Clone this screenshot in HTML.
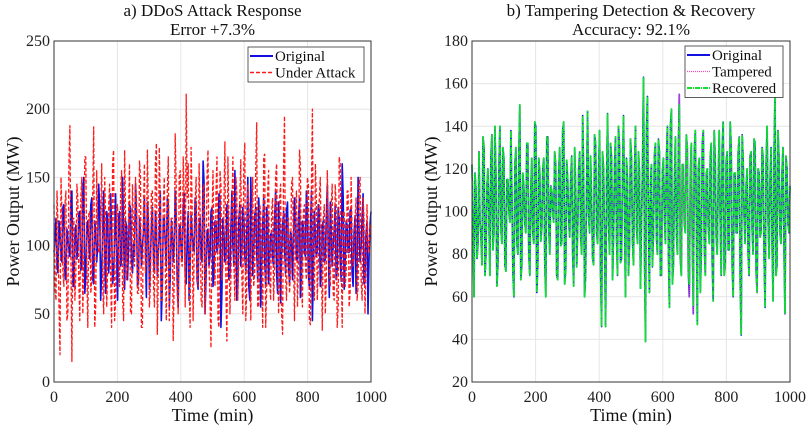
<!DOCTYPE html>
<html><head><meta charset="utf-8"><style>
body{margin:0;background:#fff;}
svg{display:block;font-family:"Liberation Serif",serif;}
</style></head><body>
<svg id="chart" width="809" height="427" viewBox="0 0 809 427" xmlns="http://www.w3.org/2000/svg"></svg>
<script>
const xTicks=[0,200,400,600,800,1000];
const yTicksA=[0,50,100,150,200,250];
const yTicksB=[20,40,60,80,100,120,140,160,180];
const origA=[95,120,80,110,88,130,75,105,92,140,70,115,98,125,85,150,78,118,90,135,72,110,100,128,82,140,65,120,95,112,80,138,60,125,90,105,118,75,130,88,
102,145,70,120,85,110,96,132,68,115,92,125,78,108,45,120,100,135,55,118,88,140,72,112,95,128,80,105,60,122,98,135,75,115,90,162,50,110,85,125,
70,118,95,138,40,120,88,130,75,112,100,155,60,118,85,128,92,110,70,150,78,122,95,135,55,115,88,128,72,108,90,120,80,132,58,115,100,125,85,110,
75,135,90,120,62,118,95,140,80,110,45,125,92,130,70,115,88,120,100,132,85,110,75,128,90,160,68,118,95,125,80,110,65,150,88,120,72,108,50,115];
const origA2=[105,85,118,92,128,78,112,96,135,70,108,90,122,82,140,65,115,100,130,75,118,88,145,60,110,95,125,80,138,72,105,92,120,85,150,68,115,98,128,80,
92,125,75,110,100,135,62,118,88,128,80,112,95,140,70,120,85,130,78,108,100,122,55,115,90,138,72,125,85,110,96,130,68,120,88,145,75,112,92,128,
80,118,100,135,65,110,90,125,78,140,85,115,70,130,95,120,82,150,60,112,98,128,75,118,88,135,70,122,92,110,85,140,65,118,95,125,80,132,72,108,
100,120,88,135,75,115,92,128,68,140,85,110,96,125,78,118,90,145,62,112,100,130,82,120,74,135,88,115,95,128,70,122,85,110,98,138,76,118,90,125];
const attackA=[130,60,115,20,125,70,140,50,188,15,120,80,135,45,150,90,165,40,125,75,187,55,110,95,160,50,120,85,145,40,170,60,130,70,155,45,125,90,160,50,
110,150,65,162,40,125,80,170,55,140,75,160,35,172,60,130,85,140,45,120,30,182,65,150,90,165,55,135,75,172,45,130,80,160,60,142,50,150,85,25,
155,70,165,40,145,85,176,30,120,75,165,60,140,90,163,50,175,70,130,45,150,80,190,55,125,40,167,70,155,60,135,85,160,50,145,35,195,60,120,80,
150,45,140,90,160,55,130,75,145,42,200,60,135,85,150,38,130,75,120,70,145,60,130,55,160,40,125,80,140,65,110,90,135,70,150,60,120,85,100,115];
const attackA2=[70,140,55,150,80,130,45,160,90,120,60,145,75,135,50,165,85,125,65,140,40,155,95,118,70,150,55,130,80,160,45,125,90,140,60,170,75,120,50,145,
85,135,65,150,40,160,90,125,70,140,55,175,80,130,60,150,45,165,95,120,75,145,50,155,85,135,211,160,40,130,90,150,70,125,55,145,80,170,60,120,
95,140,45,155,75,130,65,165,50,125,85,150,60,135,80,160,45,145,90,120,70,155,55,130,85,165,40,140,75,125,60,150,95,135,50,160,80,120,65,145,
90,130,55,170,70,125,85,150,45,140,75,160,60,135,95,120,50,155,80,130,65,145,40,165,90,125,70,140,55,150,85,120,60,145,75,135,50,130,95,110];
const origB=[122,60,110,85,95,75,130,80,120,70,136,90,118,75,140,85,125,72,115,95,108,60,130,80,150,75,112,90,132,70,125,85,140,75,118,92,125,60,135,80,
110,95,122,68,130,85,142,72,115,88,126,65,110,92,128,80,118,70,147,90,105,75,132,85,138,46,120,46,146,80,125,90,135,70,130,78,145,60,115,85,
125,75,140,85,118,95,163,39,154,62,122,88,132,80,128,70,125,85,140,55,148,75,135,80,155,70,122,90,130,60,132,52,138,47,125,80,138,70,120,85,
132,58,125,80,138,70,142,75,128,82,130,60,118,90,135,42,125,85,120,70,128,80,132,62,118,90,125,55,140,78,130,58,155,75,125,85,130,52,120,90];
const origB2=[95,118,78,128,88,135,70,112,98,125,82,140,65,120,92,130,75,115,100,138,72,122,85,128,68,118,95,132,80,110,90,142,62,125,86,120,76,135,92,112,
100,128,70,118,84,138,66,124,96,115,80,130,74,120,88,145,60,112,98,126,78,136,90,118,72,128,84,115,94,132,68,122,88,140,76,116,100,125,70,134,
86,118,92,128,64,120,80,138,96,112,74,126,88,134,70,118,98,124,82,140,66,114,90,130,78,122,94,136,72,116,86,128,100,120,62,132,84,118,92,126,
76,138,88,114,96,130,70,124,82,142,74,118,90,128,66,136,98,112,80,126,92,134,72,120,88,130,78,122,96,116,84,128,70,138,90,118,82,126,94,112];
const recovB=[122,60,110,85,95,75,130,80,120,70,136,90,118,75,140,85,125,72,115,95,108,60,130,80,150,75,112,90,132,70,125,85,140,75,118,92,125,60,135,80,
110,95,122,68,130,85,142,72,115,88,126,65,110,92,128,80,118,70,147,90,105,75,132,85,138,46,120,46,146,80,125,90,135,70,130,78,145,60,115,85,
125,75,140,85,118,95,163,39,154,62,122,88,132,80,128,70,125,85,140,55,148,75,135,80,150,70,122,90,130,66,132,56,138,47,125,80,138,70,120,85,
132,58,125,80,138,70,142,75,128,82,130,60,118,90,135,42,125,85,120,70,128,80,132,62,118,90,125,55,140,78,130,58,155,75,125,85,130,52,120,90];
const recovB2=[95,118,78,128,88,135,70,112,98,125,82,140,65,120,92,130,75,115,100,138,72,122,85,128,68,118,95,132,80,110,90,142,62,125,86,120,76,135,92,112,
100,128,70,118,84,138,66,124,96,115,80,130,74,120,88,145,60,112,98,126,78,136,90,118,72,128,84,115,94,132,68,122,88,140,76,116,100,125,70,134,
86,118,92,128,64,120,80,138,96,112,74,126,88,134,70,118,98,124,82,140,66,114,90,130,78,122,94,136,72,116,86,128,100,120,62,132,84,118,92,126,
76,138,88,114,96,130,70,124,82,142,74,118,90,128,66,136,98,112,80,126,92,134,72,120,88,130,78,122,96,116,84,128,70,138,90,118,82,126,94,112];

const NS='http://www.w3.org/2000/svg';
const svg=document.getElementById('chart');
function mk(tag,attrs,parent,text){const e=document.createElementNS(NS,tag);for(const k in attrs)e.setAttribute(k,attrs[k]);if(text!==undefined)e.textContent=text;(parent||svg).appendChild(e);return e;}
function merge(a,b){const out=[];a.forEach((v,i)=>{out.push(v);if(i<b.length)out.push(b[i]);});return out;}

function panel(p){
  const g=mk('g',{});
  
  
  const L=p.x0,R=p.x1,T=41,B=382;
  const sx=v=>L+(v-0)/1000*(R-L);
  const sy=v=>B-(v-p.ymin)/(p.ymax-p.ymin)*(B-T);
  mk('rect',{x:L,y:T,width:R-L,height:B-T,fill:'#fff'},g);
  xTicks.forEach(t=>{
    const gl=mk('line',{x1:sx(t),x2:sx(t),y1:T,y2:B,stroke:'#e6e6e6','stroke-width':1},g);
    
    
    const tl=mk('text',{x:sx(t),y:B+20,'text-anchor':'middle','font-size':16,fill:'#222'},g,String(t));
    
    
  });
  p.yt.forEach(t=>{
    const gl=mk('line',{x1:L,x2:R,y1:sy(t),y2:sy(t),stroke:'#e6e6e6','stroke-width':1},g);
    
    
    const tl=mk('text',{x:L-4,y:sy(t)+5,'text-anchor':'end','font-size':16,fill:'#222'},g,String(t));
    
    
  });
  p.series.forEach(s=>{
    const n=s.data.length;
    const pts=s.data.map((v,i)=>sx(i*1000/(n-1)).toFixed(1)+','+sy(v).toFixed(1)).join(' ');
    const pl=mk('polyline',{points:pts,fill:'none',stroke:s.color,'stroke-width':s.w,'stroke-dasharray':s.dash||'none','stroke-linejoin':'round'},g);
    
    
  });
  mk('rect',{x:L,y:T,width:R-L,height:B-T,fill:'none',stroke:'#333','stroke-width':1},g);
  const t1=mk('text',{x:(L+R)/2,y:16,'text-anchor':'middle','font-size':17,fill:'#111'},g,p.title1);
  
  
  const t2=mk('text',{x:(L+R)/2,y:35,'text-anchor':'middle','font-size':17,fill:'#111'},g,p.title2);
  
  
  const xl=mk('text',{x:(L+R)/2,y:421,'text-anchor':'middle','font-size':18,fill:'#111'},g,'Time (min)');
  
  
  const yl=mk('text',{x:0,y:0,'text-anchor':'middle','font-size':18,fill:'#111',transform:`translate(${p.ylx},${(T+B)/2}) rotate(-90)`},g,'Power Output (MW)');
  
  
  const lg=mk('g',{},g);
  
  
  mk('rect',{x:p.lg.x,y:p.lg.y,width:p.lg.w,height:p.series.length*16.5+2,fill:'#fff',stroke:'#333','stroke-width':0.8},lg);
  p.series.forEach((s,i)=>{
    const yy=p.lg.y+9+i*16.5;
    const e=mk('g',{},lg);
    
    
    mk('line',{x1:p.lg.x+2,x2:p.lg.x+25,y1:yy,y2:yy,stroke:s.color,'stroke-width':s.w+0.3,'stroke-dasharray':s.dash||'none'},e);
    mk('text',{x:p.lg.x+27,y:yy+5,'font-size':15,fill:'#111'},e,s.label);
  });
}
panel({name:'panel-ddos',x0:54,x1:371,ymin:0,ymax:250,yt:yTicksA,title1:'a) DDoS Attack Response',title2:'Error +7.3%',ylx:19,
  lg:{x:248,y:47,w:116},
  series:[{name:'original-line',label:'Original',data:merge(origA,origA2),color:'#1010e0',w:1.6},
          {name:'under-attack-line',label:'Under Attack',data:merge(attackA,attackA2),color:'#ff1a1a',w:1.3,dash:'4,2'}]});
panel({name:'panel-tampering',x0:472,x1:790,ymin:20,ymax:180,yt:yTicksB,title1:'b) Tampering Detection & Recovery',title2:'Accuracy: 92.1%',ylx:437,
  lg:{x:685,y:46,w:98},
  series:[{name:'original-line',label:'Original',data:merge(origB,origB2),color:'#1010e0',w:1.6},
          {name:'tampered-line',label:'Tampered',data:merge(origB,origB2),color:'#ff44cc',w:1,dash:'1,1'},
          {name:'recovered-line',label:'Recovered',data:merge(recovB,recovB2),color:'#11dd33',w:1.8,dash:'5,1,1,1'}]});
</script>
</body></html>
